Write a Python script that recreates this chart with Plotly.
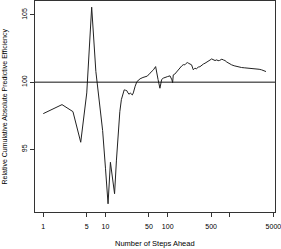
import plotly.graph_objects as go

steps = [1, 2, 3, 4, 5, 6, 7, 8, 9, 10, 11, 12, 13, 14, 15, 16, 17, 18, 19, 20,
         21, 22, 23, 24, 25, 26, 27, 28, 29, 30, 32, 36, 40, 43, 47, 52, 56, 59,
         64, 66, 70, 75, 80, 85, 91, 100, 109, 113, 117, 120,
         123, 130, 140, 148, 158, 168, 178, 189, 198, 207, 218, 228, 242, 258,
         274, 290, 310, 330, 352, 375, 398, 420, 449, 480, 509, 542, 577, 615,
         645, 678, 710, 742, 790, 834, 890, 943, 1000, 1066, 1170, 1285, 1400,
         1540, 1700, 1846, 2000, 2224, 2450, 2678, 2950, 3220, 3500, 3800]
efficiency = [97.66, 98.33, 97.81, 95.53, 99.2, 105.58, 100.8, 98.2, 96.4, 93.6,
              90.95, 94.04, 92.8, 91.7, 94.2, 96.45, 97.8, 98.7, 99.18, 99.43,
              99.40, 99.37, 99.2, 99.1, 99.2, 99.12, 99.05, 99.2, 99.5, 99.7,
              100.04, 100.25, 100.35, 100.4, 100.45, 100.67, 100.8, 100.92,
              101.16, 100.9, 100.2, 99.55, 100.2, 100.3, 100.37, 100.42, 100.47,
              100.35, 100.17, 99.97,
              100.54, 100.6, 100.79, 100.92, 101.1, 101.21, 101.3, 101.29, 101.4,
              101.46, 101.4, 101.36, 101.29, 100.92, 101.04, 101.0, 101.12,
              101.15, 101.29, 101.35, 101.41, 101.5, 101.61, 101.65, 101.73,
              101.66, 101.61, 101.66, 101.6, 101.61, 101.66, 101.71, 101.65,
              101.61, 101.5, 101.41, 101.36, 101.29, 101.22, 101.16, 101.12,
              101.09, 101.07, 101.06, 101.05, 101.04, 101.02, 100.99, 100.96,
              100.92, 100.86, 100.79]
reference_level = 100

x_tick_vals = [1, 5, 10, 50, 100, 500, 1000, 5000]
x_tick_text = ["1", "5", "10", "50", "100", "500", "", "5000"]
y_tick_vals = [95, 100, 105]
y_tick_text = ["95", "100", "105"]
x_title = "Number of Steps Ahead"
y_title = "Relative Cumulative Absolute Predictive Efficiency"

font_family = "Liberation Sans, Arial, Helvetica, sans-serif"

fig = go.Figure()
fig.add_trace(go.Scatter(
    x=steps, y=efficiency, mode="lines",
    line=dict(color="#222222", width=1),
    showlegend=False, hoverinfo="skip",
))
fig.add_shape(type="line", xref="paper", x0=0, x1=1, yref="y",
              y0=reference_level, y1=reference_level,
              line=dict(color="#111111", width=1))

fig.add_annotation(text=x_title, xref="paper", yref="paper", x=0.5, y=0,
                   xanchor="center", yanchor="middle", yshift=-31,
                   showarrow=False, font=dict(size=7.5, color="black"))
fig.add_annotation(text=y_title, xref="paper", yref="paper", x=0, y=0.5,
                   xanchor="center", yanchor="middle", xshift=-31,
                   textangle=-90, showarrow=False,
                   font=dict(size=7, color="black"))

fig.update_layout(
    width=281, height=249,
    margin=dict(l=35, r=6, t=1, b=37, autoexpand=False),
    paper_bgcolor="white", plot_bgcolor="white",
    font=dict(family=font_family, size=7, color="black"),
    hovermode=False,
    xaxis=dict(
        type="log", range=[-0.133, 3.725],
        tickmode="array", tickvals=x_tick_vals, ticktext=x_tick_text,
        ticks="outside", ticklen=4, tickwidth=1, tickcolor="#333",
        showline=True, linecolor="#333", linewidth=1, mirror=True,
        showgrid=False, zeroline=False, automargin=False,
        ticklabeloverflow="allow", ticklabelstandoff=4,
        tickfont=dict(size=7, color="black"),
    ),
    yaxis=dict(
        range=[90.34, 106.04],
        tickmode="array", tickvals=y_tick_vals, ticktext=y_tick_text,
        tickangle=-90,
        ticks="outside", ticklen=4, tickwidth=1, tickcolor="#333",
        showline=True, linecolor="#333", linewidth=1, mirror=True,
        showgrid=False, zeroline=False, automargin=False,
        ticklabeloverflow="allow",
        tickfont=dict(size=7, color="black"),
    ),
)

page_style = ("document.body.style.margin='0';"
              "document.body.style.padding='0';"
              "document.body.style.overflow='hidden';")
fig.write_html("out.html", post_script=page_style,
               config={"displayModeBar": False, "staticPlot": True})
